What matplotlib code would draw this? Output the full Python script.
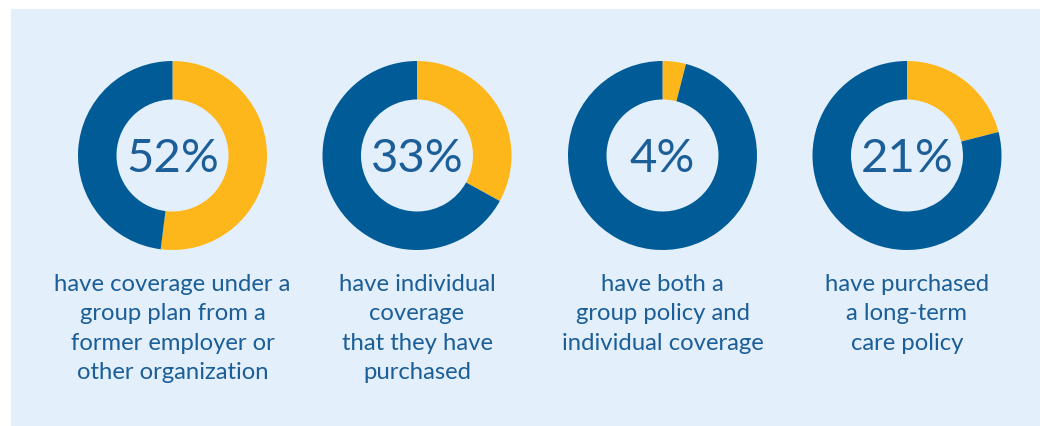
import matplotlib.pyplot as plt
from matplotlib.patches import Rectangle

# Share of respondents per coverage type
percentages = [52, 33, 4, 21]
captions = [
    "have coverage under a\ngroup plan from a\nformer employer or\nother organization",
    "have individual\ncoverage\nthat they have\npurchased",
    "have both a\ngroup policy and\nindividual coverage",
    "have purchased\na long-term\ncare policy",
]

YELLOW = "#FDB71A"
BLUE = "#005B96"
PANEL = "#E3EFFA"
TEXT = "#1B5E98"

W, H = 1050, 426
fig = plt.figure(figsize=(W / 100, H / 100), dpi=100)
fig.patch.set_facecolor("white")
ax = fig.add_axes([0, 0, 1, 1])

# light blue backdrop panel
ax.add_patch(Rectangle((11, 0), 1029, H - 9, facecolor=PANEL, edgecolor="none", zorder=0))

centers_x = [172.5, 417, 662.5, 907]
cy = H - 155.5
radius = 94.5
ring = 38.5

for cx, pct, cap in zip(centers_x, percentages, captions):
    ax.pie([pct, 100 - pct], colors=[YELLOW, BLUE], startangle=90, counterclock=False,
           center=(cx, cy), radius=radius, frame=True,
           wedgeprops=dict(width=ring, edgecolor="none", linewidth=0))
    ax.text(cx, cy - 4, f"{pct}%", ha="center", va="center", fontsize=34,
            family="Lato", color=TEXT)
    ax.text(cx, H - 274, cap, ha="center", va="top", fontsize=17.2,
            family="Lato", color=TEXT, linespacing=1.49)

ax.set_xlim(0, W)
ax.set_ylim(0, H)
ax.set_aspect("equal")
ax.axis("off")

fig.savefig("out.png", dpi=100, facecolor="white")
